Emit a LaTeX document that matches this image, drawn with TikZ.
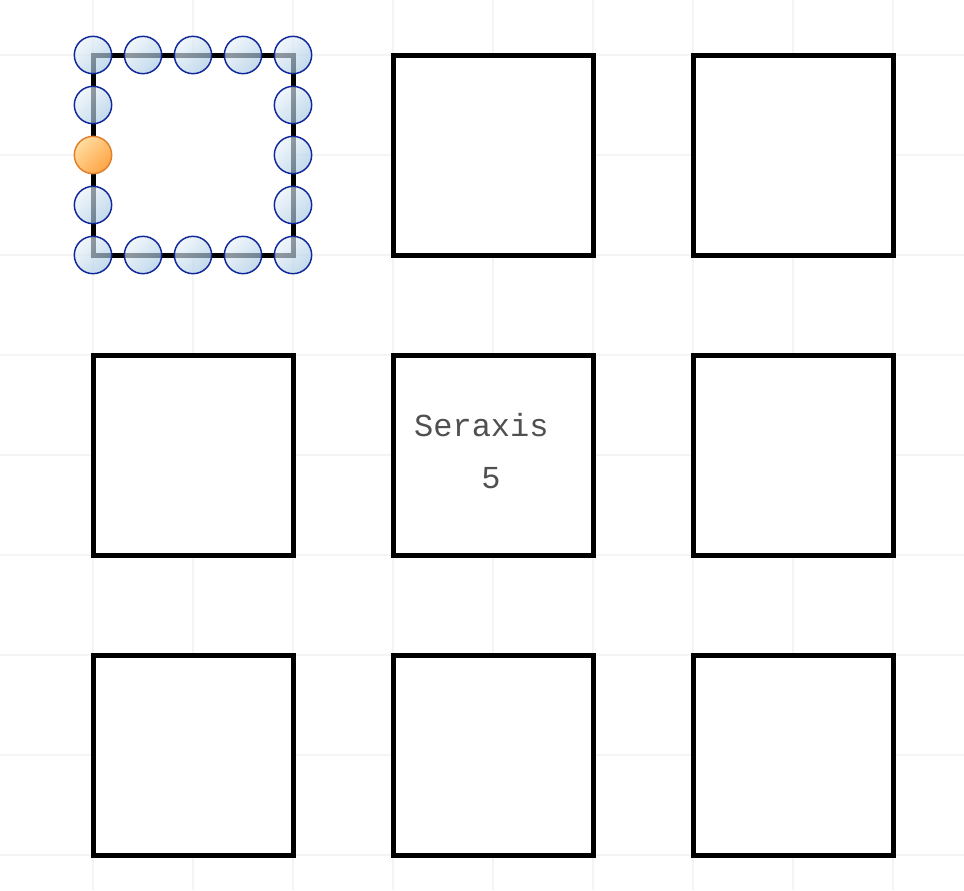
\documentclass[tikz,border=0pt]{standalone}
\usepackage{fontspec}
\newfontfamily\monofont{Liberation Mono}
\definecolor{gridc}{HTML}{F4F4F4}
\definecolor{hdraw}{HTML}{10289A}
\definecolor{hlight}{HTML}{EAF3FA}
\definecolor{hdark}{HTML}{A2C6E2}
\definecolor{olight}{HTML}{FFDCA0}
\definecolor{odark}{HTML}{FFA545}
\definecolor{odraw}{HTML}{E0802A}
\definecolor{txt}{HTML}{505050}
\tikzset{
  gridline/.style={draw=gridc, line width=0.9pt},
  sqbox/.style={draw=black, line width=3.75pt, rectangle, minimum size=150pt, inner sep=0pt, fill=white},
  handle/.style={circle, minimum size=28pt, inner sep=0pt, draw=hdraw, line width=1.1pt,
     top color=hlight, bottom color=hdark, shading angle=45, fill opacity=0.65},
  ohandle/.style={circle, minimum size=28pt, inner sep=0pt, draw=odraw, line width=1.1pt,
     top color=olight, bottom color=odark, shading angle=45},
  lbl/.style={font=\monofont\fontsize{24}{28}\selectfont, text=txt, anchor=base, inner sep=0pt}
}
\begin{document}
\begin{tikzpicture}[x=0.75pt, y=-0.75pt]
\useasboundingbox (0,0) rectangle (964,890);
\fill[white] (0,0) rectangle (964,890);
% grid
\foreach \gx in {93,193,...,893} \draw[gridline] (\gx,0) -- (\gx,890);
\foreach \gy in {55,155,...,855} \draw[gridline] (0,\gy) -- (964,\gy);
% boxes
\node[sqbox] (b11) at (193,155) {};
\node[sqbox] (b12) at (493,155) {};
\node[sqbox] (b13) at (793,155) {};
\node[sqbox] (b21) at (193,455) {};
\node[sqbox] (b22) at (493,455) {};
\node[sqbox] (b23) at (793,455) {};
\node[sqbox] (b31) at (193,755) {};
\node[sqbox] (b32) at (493,755) {};
\node[sqbox] (b33) at (793,755) {};
% label
\node[lbl] (l1) at (491,436) {Seraxis\hphantom{0}};
\node[lbl] (l2) at (491,488) {5};
% handles on first box
\foreach \hx [count=\i] in {93,143,193,243,293} {
  \node[handle] (ht\i) at (\hx,55) {};
  \node[handle] (hb\i) at (\hx,255) {};
}
\foreach \hy [count=\i] in {105,155,205} {
  \node[handle] (hr\i) at (293,\hy) {};
}
\node[handle] (hl1) at (93,105) {};
\node[ohandle] (hl2) at (93,155) {};
\node[handle] (hl3) at (93,205) {};
\end{tikzpicture}
\end{document}
